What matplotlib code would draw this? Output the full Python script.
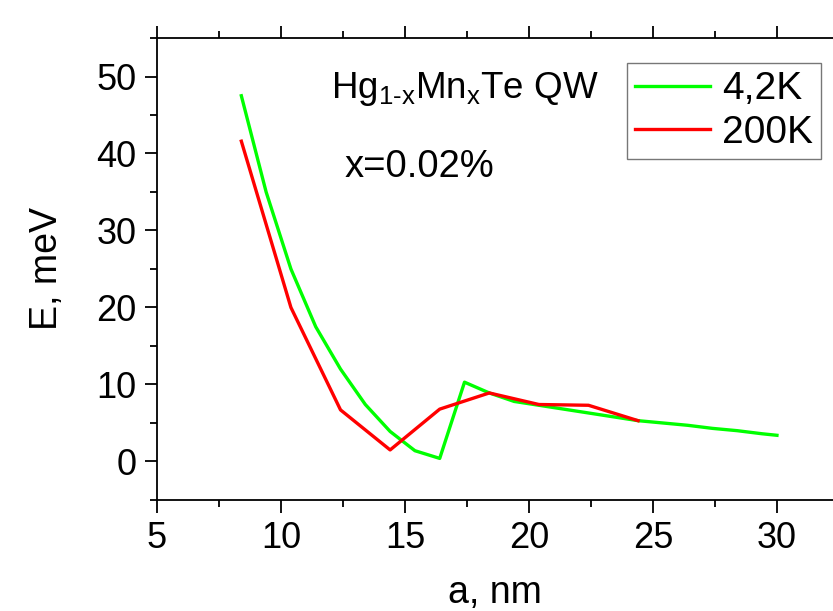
import matplotlib
matplotlib.use('Agg')
import matplotlib.pyplot as plt
from matplotlib.ticker import MultipleLocator

plt.rcParams['font.family'] = ['Liberation Sans', 'DejaVu Sans']
plt.rcParams['mathtext.fontset'] = 'custom'
plt.rcParams['mathtext.rm'] = 'Liberation Sans'
plt.rcParams['mathtext.it'] = 'Liberation Sans'

# 4,2K curve
a_4K = [8.4, 9.4, 10.4, 11.4, 12.4, 13.4, 14.4, 15.4, 16.4, 17.4, 18.4, 19.4, 20.4,
        21.4, 22.4, 23.4, 24.4, 25.4, 26.4, 27.4, 28.4, 29.4, 30.0]
E_4K = [47.5, 35.0, 25.0, 17.5, 12.0, 7.4, 3.9, 1.4, 0.4, 10.3, 8.9, 7.8, 7.3,
        6.8, 6.3, 5.8, 5.3, 5.0, 4.7, 4.3, 4.0, 3.6, 3.4]

# 200K curve
a_200K = [8.4, 10.4, 12.4, 14.4, 16.4, 18.4, 20.4, 22.4, 24.4]
E_200K = [41.6, 20.0, 6.7, 1.5, 6.8, 8.9, 7.4, 7.3, 5.3]

fig = plt.figure(figsize=(8.33, 6.11), dpi=100)
ax = fig.add_axes([0.1885, 0.1817, 0.8115, 0.7561])

ax.plot(a_4K, E_4K, color='#00ff00', lw=2.4, label='4,2K')
ax.plot(a_200K, E_200K, color='#ff0000', lw=2.4, label='200K')

ax.set_xlim(5, 32.26)
ax.set_ylim(-5, 55)
ax.xaxis.set_major_locator(MultipleLocator(5))
ax.xaxis.set_minor_locator(MultipleLocator(2.5))
ax.yaxis.set_major_locator(MultipleLocator(10))
ax.yaxis.set_minor_locator(MultipleLocator(5))

ax.spines['right'].set_visible(False)
for s in ['left', 'bottom', 'top']:
    ax.spines[s].set_linewidth(1.3)

ax.tick_params(which='both', direction='out', top=True, labeltop=False,
               right=False, width=1.3, labelsize=26, pad=6)
ax.tick_params(which='major', length=9)
ax.tick_params(which='minor', length=5)

ax.set_xlabel('a, nm', fontsize=27, labelpad=14)
ax.set_ylabel('E, meV', fontsize=27, labelpad=22)

ax.text(0.258, 0.89, r'$\mathregular{Hg_{1\text{-}x}Mn_{x}Te\ QW}$', transform=ax.transAxes,
        fontsize=26.5, va='center', ha='left')
ax.text(0.278, 0.72, 'x=0.02%', transform=ax.transAxes,
        fontsize=27.5, va='center', ha='left')

leg = ax.legend(loc='upper right', bbox_to_anchor=(0.982, 0.945), fontsize=28,
                frameon=True, fancybox=False, edgecolor='#555555',
                handlelength=1.95, handletextpad=0.3, borderpad=0.2,
                labelspacing=0.2, borderaxespad=0)
leg.get_frame().set_linewidth(1.0)

fig.savefig('out.png', dpi=100)
